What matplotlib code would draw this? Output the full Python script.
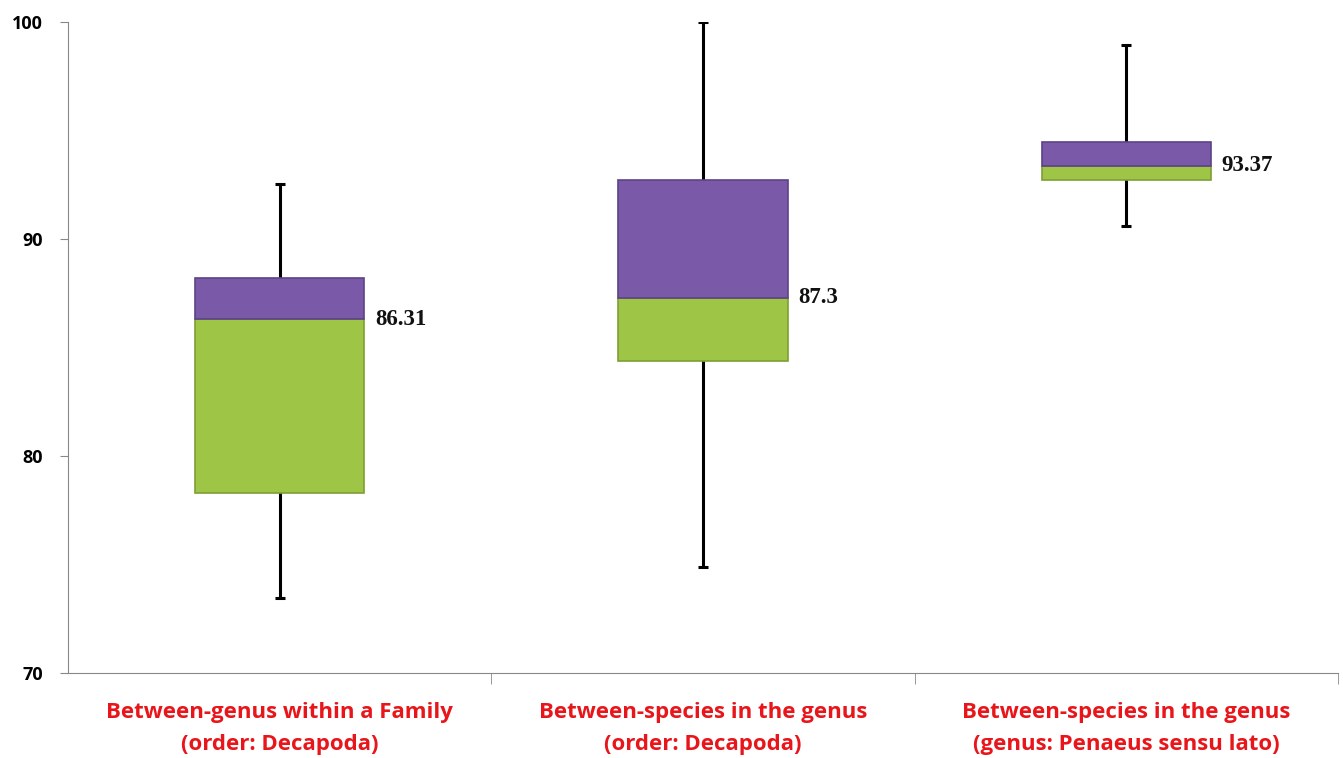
import matplotlib
matplotlib.use("Agg")
import matplotlib.pyplot as plt

categories = ["Between-genus within a Family\n(order: Decapoda)",
              "Between-species in the genus\n(order: Decapoda)",
              "Between-species in the genus\n(genus: Penaeus sensu lato)"]
whisker_low = [73.45, 74.9, 90.6]
q1 = [78.3, 84.4, 92.72]
median = [86.31, 87.3, 93.37]
q3 = [88.2, 92.7, 94.45]
whisker_high = [92.55, 100.0, 98.95]
median_labels = ["86.31", "87.3", "93.37"]

purple = "#7A5AA8"
green = "#9EC545"

fig = plt.figure(figsize=(13.43, 7.58), dpi=100)
ax = fig.add_axes([0.0506, 0.1121, 0.9457, 0.8589])

x = list(range(len(categories)))
w = 0.4

# whiskers behind the boxes
for i in x:
    ax.vlines(i, whisker_low[i], whisker_high[i], color="black", lw=2.2, zorder=1)
    ax.hlines([whisker_low[i], whisker_high[i]], i - 0.012, i + 0.012, color="black", lw=2.2, zorder=1)

lower = [m - a for m, a in zip(median, q1)]
upper = [b - m for b, m in zip(q3, median)]
ax.bar(x, lower, w, bottom=q1, color=green, edgecolor="#7E9E35", lw=1.2, zorder=2)
ax.bar(x, upper, w, bottom=median, color=purple, edgecolor="#5E4386", lw=1.2, zorder=2)

for i in x:
    ax.text(i + w / 2 + 0.025, median[i], median_labels[i], family="Liberation Serif",
            fontweight="bold", fontsize=16.5, va="center", ha="left", color="#111111")

ax.set_xlim(-0.5, 2.5)
ax.set_ylim(70, 100)
ax.set_yticks([70, 80, 90, 100])
ax.set_yticklabels(["70", "80", "90", "100"], fontweight="bold", fontsize=13, family="Open Sans")
ax.set_xticks(x)
ax.set_xticklabels(categories, color="#E8161B", fontweight="bold", fontsize=16,
                   family="Open Sans", linespacing=1.65)
ax.tick_params(axis="x", length=0, pad=21)
ax.set_xticks([0.5, 1.5, 2.5], minor=True)
ax.tick_params(axis="x", which="minor", length=8, color="#888888", direction="out")
ax.tick_params(axis="y", length=6, color="#888888", pad=12)
ax.spines["top"].set_visible(False)
ax.spines["right"].set_visible(False)
ax.spines["left"].set_color("#888888")
ax.spines["bottom"].set_color("#888888")

plt.savefig("out.png", dpi=100)
